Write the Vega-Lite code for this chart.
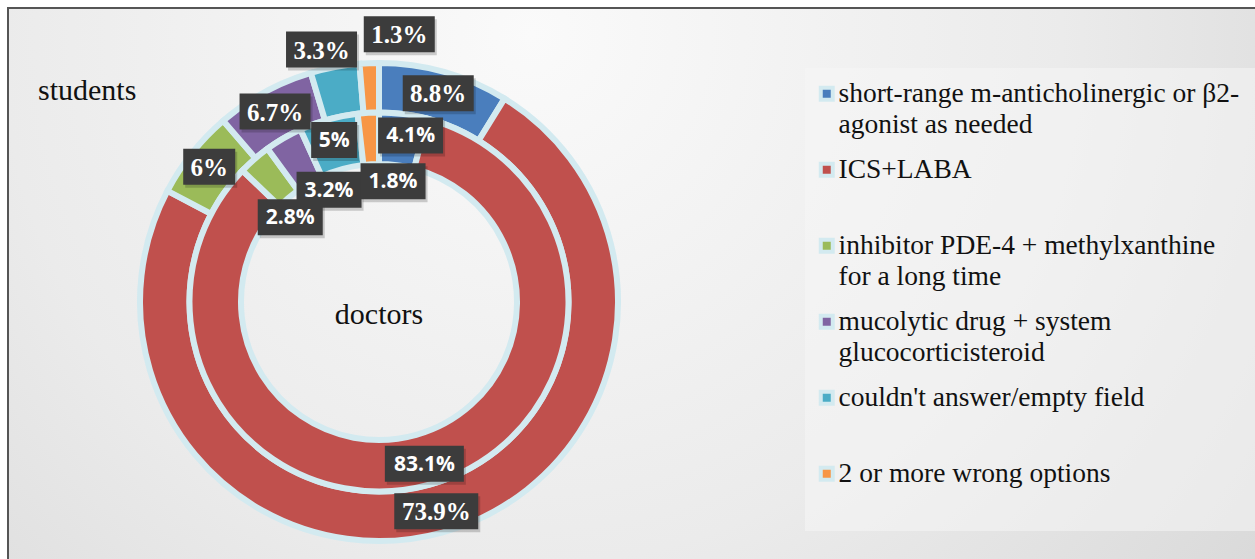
{
  "$schema": "https://vega.github.io/schema/vega-lite/v6.json",
  "width": 1255,
  "height": 559,
  "autosize": {"type": "fit", "contains": "padding"},
  "padding": {"left": 8, "top": 8, "right": 0, "bottom": 0},
  "background": "#ffffff",
  "view": {
    "stroke": "#555555",
    "strokeWidth": 2,
    "strokeDash": {"expr": "[width, width + height, height, 1]"},
    "fill": {"expr": "{gradient: 'radial', x1: 0.42, y1: 0.3, r1: 0, x2: 0.42, y2: 0.3, r2: 0.85, stops: [{offset: 0, color: '#fafafa'}, {offset: 0.5, color: '#ebebeb'}, {offset: 1, color: '#d2d2d2'}]}"}
  },
  "data": {
    "values": [
      {"ring": "students", "k": 1, "cat": "short-range m-anticholinergic or β2-agonist as needed", "value": 8.8},
      {"ring": "students", "k": 2, "cat": "ICS+LABA", "value": 73.9},
      {"ring": "students", "k": 3, "cat": "inhibitor PDE-4 + methylxanthine for a long time", "value": 6},
      {"ring": "students", "k": 4, "cat": "mucolytic drug + system glucocorticisteroid", "value": 6.7},
      {"ring": "students", "k": 5, "cat": "couldn't answer/empty field", "value": 3.3},
      {"ring": "students", "k": 6, "cat": "2 or more wrong options", "value": 1.3},
      {"ring": "doctors", "k": 1, "cat": "short-range m-anticholinergic or β2-agonist as needed", "value": 4.1},
      {"ring": "doctors", "k": 2, "cat": "ICS+LABA", "value": 83.1},
      {"ring": "doctors", "k": 3, "cat": "inhibitor PDE-4 + methylxanthine for a long time", "value": 2.8},
      {"ring": "doctors", "k": 4, "cat": "mucolytic drug + system glucocorticisteroid", "value": 3.2},
      {"ring": "doctors", "k": 5, "cat": "couldn't answer/empty field", "value": 5},
      {"ring": "doctors", "k": 6, "cat": "2 or more wrong options", "value": 1.8}
    ]
  },
  "transform": [
    {"stack": "value", "groupby": ["ring"], "sort": [{"field": "k", "order": "ascending"}], "as": ["s0", "s1"]}
  ],
  "layer": [
    {
      "mark": {
        "type": "arc",
        "x": 371,
        "y": 294,
        "radius": {"expr": "datum.ring=='students' ? 239 : 189.5"},
        "radius2": {"expr": "datum.ring=='students' ? 189.5 : 138"},
        "stroke": "#d3eaf0",
        "strokeWidth": 6,
        "strokeJoin": "miter"
      },
      "encoding": {
        "theta": {"field": "s0", "type": "quantitative", "stack": null, "scale": {"domain": [0, 100]}},
        "theta2": {"field": "s1"},
        "color": {
          "field": "cat",
          "type": "nominal",
          "scale": {
            "domain": [
              "short-range m-anticholinergic or β2-agonist as needed",
              "ICS+LABA",
              "inhibitor PDE-4 + methylxanthine for a long time",
              "mucolytic drug + system glucocorticisteroid",
              "couldn't answer/empty field",
              "2 or more wrong options"
            ],
            "range": ["#4a7ebd", "#c0504d", "#9bbb59", "#8064a2", "#4bacc6", "#f79646"]
          },
          "legend": {
            "title": null,
            "orient": "none",
            "legendX": 797,
            "legendY": 60,
            "padding": 12,
            "fillColor": "rgba(246,246,246,0.55)",
            "symbolType": "square",
            "symbolSize": 144,
            "symbolStrokeColor": "#d3eaf0",
            "symbolStrokeWidth": 4,
            "symbolOpacity": 1,
            "symbolOffset": -4,
            "labelFont": "Liberation Serif",
            "labelFontSize": 27.5,
            "labelColor": "#111111",
            "labelLimit": 600,
            "labelOffset": -2,
            "labelBaseline": "alphabetic",
            "rowPadding": 16,
            "labelExpr": "datum.value=='short-range m-anticholinergic or β2-agonist as needed' ? ['short-range m-anticholinergic or  β2-','agonist  as needed'] : datum.value=='inhibitor PDE-4 + methylxanthine for a long time' ? ['inhibitor PDE-4 + methylxanthine','for a long time'] : datum.value=='mucolytic drug + system glucocorticisteroid' ? ['mucolytic drug + system','glucocorticisteroid'] : [datum.value, ' ']",
            "encode": {
              "labels": {"update": {"lineHeight": {"value": 31}, "dy": {"value": 8}}}
            }
          }
        }
      }
    },
    {
      "mark": {
        "type": "point",
        "filled": true,
        "opacity": 1,
        "fill": "#000000",
        "fillOpacity": 0.18,
        "strokeWidth": 0,
        "size": 4,
        "xOffset": 2,
        "yOffset": 3,
        "x": {"expr": "371 + (datum.ring=='students' ? (datum.value>=5 ? 217 : 263) : (datum.value>=4 ? 168 : 123)) * sin(PI*(datum.s0+datum.s1)/100) + (datum.ring=='students' ? (datum.value<2 ? 31 : datum.value<5 ? -9 : 0) : (datum.value<2 ? 21 : datum.value<3 ? -8 : datum.value<4 ? 12 : datum.value<4.5 ? 10 : 0))"},
        "y": {"expr": "294 - (datum.ring=='students' ? (datum.value>=5 ? 217 : 263) : (datum.value>=4 ? 168 : 123)) * cos(PI*(datum.s0+datum.s1)/100) + (datum.ring=='students' ? (datum.value<2 ? -5 : datum.value<5 ? 6 : 0) : (datum.value<2 ? 2 : datum.value<3 ? 8 : datum.value<4 ? -6 : 0))"},
        "shape": {"expr": "'M' + (-(datum.ring=='students' ? (length(datum.value+'%')==2 ? 26 : length(datum.value+'%')==4 ? 35.5 : 42) : (length(datum.value+'%')==2 ? 23 : length(datum.value+'%')==4 ? 32.5 : 39.5))) + ',-18H' + (datum.ring=='students' ? (length(datum.value+'%')==2 ? 26 : length(datum.value+'%')==4 ? 35.5 : 42) : (length(datum.value+'%')==2 ? 23 : length(datum.value+'%')==4 ? 32.5 : 39.5)) + 'V18H' + (-(datum.ring=='students' ? (length(datum.value+'%')==2 ? 26 : length(datum.value+'%')==4 ? 35.5 : 42) : (length(datum.value+'%')==2 ? 23 : length(datum.value+'%')==4 ? 32.5 : 39.5))) + 'Z'"}
      }
    },
    {
      "mark": {
        "type": "point",
        "filled": true,
        "opacity": 1,
        "fill": "#3c3c3c",
        "strokeWidth": 0,
        "size": 4,
        "x": {"expr": "371 + (datum.ring=='students' ? (datum.value>=5 ? 217 : 263) : (datum.value>=4 ? 168 : 123)) * sin(PI*(datum.s0+datum.s1)/100) + (datum.ring=='students' ? (datum.value<2 ? 31 : datum.value<5 ? -9 : 0) : (datum.value<2 ? 21 : datum.value<3 ? -8 : datum.value<4 ? 12 : datum.value<4.5 ? 10 : 0))"},
        "y": {"expr": "294 - (datum.ring=='students' ? (datum.value>=5 ? 217 : 263) : (datum.value>=4 ? 168 : 123)) * cos(PI*(datum.s0+datum.s1)/100) + (datum.ring=='students' ? (datum.value<2 ? -5 : datum.value<5 ? 6 : 0) : (datum.value<2 ? 2 : datum.value<3 ? 8 : datum.value<4 ? -6 : 0))"},
        "shape": {"expr": "'M' + (-(datum.ring=='students' ? (length(datum.value+'%')==2 ? 26 : length(datum.value+'%')==4 ? 35.5 : 42) : (length(datum.value+'%')==2 ? 23 : length(datum.value+'%')==4 ? 32.5 : 39.5))) + ',-18H' + (datum.ring=='students' ? (length(datum.value+'%')==2 ? 26 : length(datum.value+'%')==4 ? 35.5 : 42) : (length(datum.value+'%')==2 ? 23 : length(datum.value+'%')==4 ? 32.5 : 39.5)) + 'V18H' + (-(datum.ring=='students' ? (length(datum.value+'%')==2 ? 26 : length(datum.value+'%')==4 ? 35.5 : 42) : (length(datum.value+'%')==2 ? 23 : length(datum.value+'%')==4 ? 32.5 : 39.5))) + 'Z'"}
      }
    },
    {
      "mark": {
        "type": "text",
        "align": "center",
        "baseline": "middle",
        "fill": "#ffffff",
        "fontWeight": "bold",
        "font": {"expr": "datum.ring=='students' ? 'Liberation Serif' : 'Open Sans'"},
        "fontSize": {"expr": "datum.ring=='students' ? 25 : 21"},
        "dy": 1,
        "text": {"expr": "datum.value + '%'"},
        "x": {"expr": "371 + (datum.ring=='students' ? (datum.value>=5 ? 217 : 263) : (datum.value>=4 ? 168 : 123)) * sin(PI*(datum.s0+datum.s1)/100) + (datum.ring=='students' ? (datum.value<2 ? 31 : datum.value<5 ? -9 : 0) : (datum.value<2 ? 21 : datum.value<3 ? -8 : datum.value<4 ? 12 : datum.value<4.5 ? 10 : 0))"},
        "y": {"expr": "294 - (datum.ring=='students' ? (datum.value>=5 ? 217 : 263) : (datum.value>=4 ? 168 : 123)) * cos(PI*(datum.s0+datum.s1)/100) + (datum.ring=='students' ? (datum.value<2 ? -5 : datum.value<5 ? 6 : 0) : (datum.value<2 ? 2 : datum.value<3 ? 8 : datum.value<4 ? -6 : 0))"}
      }
    },
    {
      "data": {"values": [{"t": "students"}]},
      "mark": {"type": "text", "align": "left", "baseline": "alphabetic", "font": "Liberation Serif", "fontSize": 30, "fill": "#111111", "x": 30, "y": 92},
      "encoding": {"text": {"field": "t"}}
    },
    {
      "data": {"values": [{"t": "doctors"}]},
      "mark": {"type": "text", "align": "center", "baseline": "alphabetic", "font": "Liberation Serif", "fontSize": 30, "fill": "#111111", "x": 371, "y": 316},
      "encoding": {"text": {"field": "t"}}
    }
  ]
}
